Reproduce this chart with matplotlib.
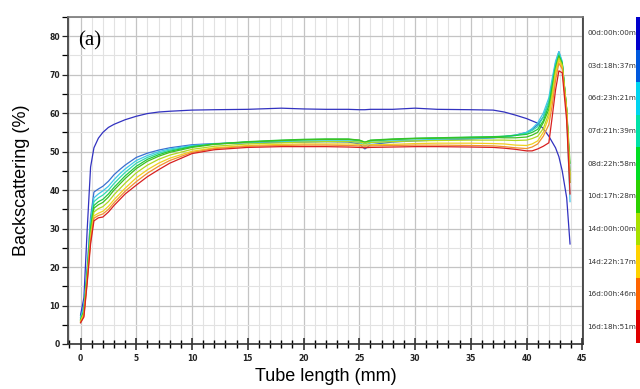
import numpy as np
import matplotlib
matplotlib.use("Agg")
import matplotlib.pyplot as plt
from matplotlib.ticker import MultipleLocator

# Tube length (mm)
x = [0, 0.3, 0.6, 0.9, 1.2, 1.6, 2, 2.5, 3, 3.5, 4, 5, 6, 7, 8, 10, 12, 15, 18, 20,
     22, 24, 25, 25.5, 26, 28, 30, 32, 35, 37, 38, 39, 40, 40.5, 41, 41.5, 42, 42.3,
     42.6, 42.9, 43.2, 43.6, 43.9]

labels = ["00d:00h:00m", "03d:18h:37m", "06d:23h:21m", "07d:21h:39m", "08d:22h:58m",
          "10d:17h:28m", "14d:00h:00m", "14d:22h:17m", "16d:00h:46m", "16d:18h:51m"]

bs_00d = [7.5, 12, 30, 46, 51, 53.5, 55, 56.3, 57.1, 57.7, 58.3, 59.2, 59.9, 60.3, 60.5, 60.8, 60.9, 61.0, 61.3, 61.1,
          61.0, 61.0, 60.9, 60.9, 61.0, 61.0, 61.3, 61.0, 60.9, 60.8, 60.3, 59.5, 58.6, 58.0, 57.4, 56.0, 54.0, 52.5,
          51.0, 48.7, 45.0, 38.0, 26.0]
bs_03d = [7, 10, 20, 33, 39.5, 40.3, 41, 42.3, 44, 45.3, 46.5, 48.5, 49.6, 50.4, 51, 51.8, 52.1, 52.3, 52.4, 52.5,
          52.6, 52.5, 52.0, 50.7, 51.8, 52.5, 52.8, 53.0, 53.3, 53.6, 53.9, 54.3, 55, 55.8, 57, 59, 63, 68,
          73, 76, 73, 60, 45]
bs_06d = [6.8, 9.5, 19.5, 32, 38, 39, 39.8, 41, 42.7, 44.2, 45.5, 47.7, 49, 50, 50.7, 51.6, 52, 52.4, 52.6, 52.7,
          52.8, 52.8, 52.4, 51.5, 52.3, 52.8, 53, 53.2, 53.4, 53.6, 53.8, 54.2, 55, 56, 57.5, 60, 64, 69,
          73.5, 76, 73.5, 60, 37]
bs_07d = [6.5, 9, 19, 31, 37, 38, 38.7, 40, 41.7, 43.2, 44.6, 47, 48.5, 49.6, 50.4, 51.4, 52, 52.5, 52.8, 53,
          53.1, 53.1, 52.8, 52, 52.7, 53.1, 53.4, 53.5, 53.7, 53.8, 54, 54.3, 54.8, 55.5, 56.5, 59, 63, 68,
          72.5, 75.5, 73, 61, 44]
bs_08d = [6.3, 8.5, 18.5, 30, 36, 37, 37.6, 39, 40.7, 42.2, 43.7, 46.2, 48, 49.2, 50.1, 51.3, 52, 52.6, 53, 53.2,
          53.3, 53.3, 53, 52.4, 53, 53.3, 53.5, 53.6, 53.8, 53.9, 54, 54.2, 54.5, 55, 55.8, 58, 62, 67,
          72, 75, 73, 61, 42]
bs_10d = [6.2, 8.2, 18, 29.5, 35.3, 36.2, 36.8, 38.2, 40, 41.5, 43, 45.6, 47.5, 48.8, 49.8, 51.1, 51.9, 52.5, 52.9, 53.1,
          53.2, 53.2, 53, 52.5, 52.9, 53.2, 53.4, 53.5, 53.6, 53.7, 53.6, 53.6, 53.8, 54.3, 55, 57.5, 61, 66,
          71.5, 74.7, 72.8, 61, 47]
bs_14d = [6, 8, 17.5, 28.5, 34.3, 35.2, 35.7, 37, 38.8, 40.3, 41.8, 44.5, 46.5, 48, 49.1, 50.6, 51.4, 52, 52.3, 52.5,
          52.6, 52.6, 52.5, 52.2, 52.4, 52.6, 52.8, 52.9, 53, 53, 53, 52.9, 53, 53.4, 54, 56, 60, 65,
          71, 74.3, 72.5, 61, 43]
bs_14d22 = [5.8, 7.7, 17, 27.5, 33.3, 34, 34.5, 35.8, 37.5, 39, 40.5, 43.2, 45.3, 47, 48.3, 50.1, 51, 51.6, 51.9, 52,
            52, 52, 51.9, 51.7, 51.8, 51.9, 52.1, 52.2, 52.2, 52.1, 52, 51.7, 51.6, 52, 52.8, 55, 59, 64,
            70, 73.8, 72, 60.5, 44]
bs_16d = [5.6, 7.3, 16.5, 26.8, 32.7, 33.4, 33.8, 35, 36.7, 38.2, 39.7, 42.2, 44.4, 46.2, 47.7, 49.8, 50.8, 51.4, 51.6, 51.7,
          51.7, 51.6, 51.5, 51.4, 51.5, 51.6, 51.7, 51.7, 51.6, 51.5, 51.3, 51, 50.8, 51.2, 52, 54, 57, 62,
          68.5, 73, 71.5, 60, 42]
bs_16d18 = [5.5, 7, 16, 26, 32, 32.8, 33, 34.3, 36, 37.5, 39, 41.3, 43.5, 45.3, 47, 49.5, 50.5, 51.1, 51.3, 51.3,
            51.3, 51.2, 51.1, 51.0, 51.1, 51.2, 51.3, 51.3, 51.2, 51.1, 50.9, 50.6, 50.2, 50.2, 50.7, 51.4, 52.3, 59,
            66, 71, 70.5, 58, 39]

series = [bs_00d, bs_03d, bs_06d, bs_07d, bs_08d, bs_10d, bs_14d, bs_14d22, bs_16d, bs_16d18]

bar_colors = ["#0000CC", "#0058DD", "#00D4F0", "#00E2A8", "#00DD22", "#2CD000",
              "#A8E000", "#FFD200", "#FF6400", "#E00000"]
line_colors = ["#3232C0", "#3A70D0", "#40C8E8", "#30D8B0", "#20C840", "#40C020",
               "#B0D820", "#F0D020", "#F09030", "#D82020"]

fig = plt.figure(figsize=(6.4, 3.89), dpi=100)
ax = fig.add_axes([0.1067, 0.1157, 0.804, 0.8406])

for vals, c in zip(series, line_colors):
    ax.plot(x, vals, color=c, lw=0.9, zorder=3)

ax.set_xlim(-1.1, 45.05)
ax.set_ylim(0, 85)

ax.xaxis.set_major_locator(MultipleLocator(5))
ax.xaxis.set_minor_locator(MultipleLocator(1))
ax.yaxis.set_major_locator(MultipleLocator(10))
ax.yaxis.set_minor_locator(MultipleLocator(5))
ax.grid(which="major", color="#C4C4C4", lw=0.9, zorder=0)
ax.grid(which="minor", color="#E2E2E2", lw=0.8, zorder=0)
ax.set_axisbelow(True)

ax.tick_params(axis="x", which="major", direction="inout", length=8, width=1.1,
               labelsize=5.5, colors="#222222", pad=3)
ax.tick_params(axis="x", which="minor", direction="inout", length=6, width=1.0)
ax.tick_params(axis="y", which="major", direction="out", length=4, width=0.9,
               labelsize=5.5, colors="#222222", pad=2)
ax.tick_params(axis="y", which="minor", direction="out", length=4, width=0.9)
for lbl in ax.get_xticklabels() + ax.get_yticklabels():
    lbl.set_fontweight("bold")

for s in ["left", "bottom", "right", "top"]:
    ax.spines[s].set_color("#333333")
    ax.spines[s].set_linewidth(1.2)
ax.spines["top"].set_color("#777777")

ax.set_xlabel("Tube length (mm)", fontsize=13, family="Liberation Sans", labelpad=4)
ax.set_ylabel("Backscattering (%)", fontsize=13, family="Liberation Sans", labelpad=14)

ax.text(0.02, 0.955, "(a)", transform=ax.transAxes, fontsize=15,
        family="Liberation Serif", va="top", ha="left", zorder=5)

# segmented colour legend on the right
cax = fig.add_axes([636 / 640, 1 - 343 / 389, 0.02, (343 - 17) / 389])
n = len(labels)
for i, c in enumerate(bar_colors):
    cax.axhspan(n - i - 1, n - i, color=c, lw=0)
cax.set_ylim(0, n)
cax.set_xlim(0, 1)
cax.axis("off")
for i, lab in enumerate(labels):
    fig.text(587 / 640, 1 - (17 + (i + 0.5) * 32.6) / 389, lab, fontsize=5.2,
             color="#333333", va="center", ha="left")

fig.savefig("out.png", dpi=100)
